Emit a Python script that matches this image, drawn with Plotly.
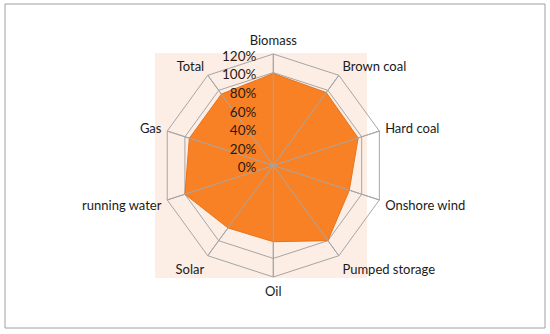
import plotly.graph_objects as go

categories = ["Biomass", "Brown coal", "Hard coal", "Onshore wind", "Pumped storage",
              "Oil", "Solar", "running water", "Gas", "Total"]
values = [99, 97, 96, 86, 100, 82, 83, 100, 95, 95]
tick_vals = [0, 20, 40, 60, 80, 100, 120]
tick_text = [f"{v}%" for v in tick_vals]

W, H = 550, 334
cx, cy, R = 273.3, 165.5, 111.5
dom_x = [(cx - R) / W, (cx + R) / W]
dom_y = [(H - cy - R) / H, (H - cy + R) / H]
lab_shift = 7 / W
dom_x_lab = [dom_x[0] - lab_shift, dom_x[1] - lab_shift]

theta = categories + [categories[0]]
r = values + [values[0]]

fig = go.Figure()
fig.add_trace(go.Scatterpolar(
    r=r, theta=theta, mode="lines", fill="toself",
    fillcolor="#F98125", line=dict(color="#E8731C", width=1),
    subplot="polar", hoverinfo="skip", showlegend=False))
fig.add_trace(go.Scatterpolar(
    r=[0], theta=[categories[0]], mode="markers",
    marker=dict(color="#9A9A9A", size=6),
    subplot="polar2", hoverinfo="skip", showlegend=False))
fig.add_trace(go.Scatterpolar(
    r=[0], theta=[categories[0]], mode="markers",
    marker=dict(size=1, opacity=0),
    subplot="polar3", hoverinfo="skip", showlegend=False))

font_family = "Lato, 'Open Sans', sans-serif"
common_ang = dict(direction="clockwise", rotation=90, type="category",
                  categoryarray=categories)

fig.update_layout(
    width=W, height=H,
    margin=dict(l=0, r=0, t=0, b=0),
    paper_bgcolor="white",
    font=dict(family=font_family, size=13, color="#1a1a1a"),
    polar=dict(
        domain=dict(x=dom_x, y=dom_y),
        gridshape="linear",
        bgcolor="rgba(0,0,0,0)",
        radialaxis=dict(range=[0, 120], tickvals=tick_vals, showticklabels=False,
                        showline=False, ticks="", gridcolor="#A6A6A6", gridwidth=1),
        angularaxis=dict(**common_ang, showticklabels=False, ticks="",
                         showline=True, linecolor="#A6A6A6", linewidth=1,
                         gridcolor="#A6A6A6", showgrid=True),
    ),
    polar2=dict(
        domain=dict(x=dom_x, y=dom_y),
        gridshape="linear",
        bgcolor="rgba(0,0,0,0)",
        radialaxis=dict(range=[0, 120], tickvals=tick_vals, showticklabels=False,
                        showgrid=False, showline=False, ticks=""),
        angularaxis=dict(**common_ang, showline=False, ticks="outside", ticklen=3,
                         tickcolor="rgba(0,0,0,0)",
                         gridcolor="#A6A6A6", showgrid=True,
                         tickfont=dict(size=13, color="#1a1a1a")),
    ),
    polar3=dict(
        domain=dict(x=dom_x_lab, y=dom_y),
        gridshape="linear",
        bgcolor="rgba(0,0,0,0)",
        radialaxis=dict(range=[0, 120], tickvals=tick_vals, ticktext=tick_text,
                        angle=90, side="counterclockwise", showgrid=False,
                        showline=False, ticks="",
                        tickfont=dict(size=13.5, color="#2a1a10")),
        angularaxis=dict(**common_ang, visible=False, showgrid=False,
                         showline=False, showticklabels=False, ticks=""),
    ),
    shapes=[
        dict(type="rect", xref="paper", yref="paper",
             x0=155 / W, x1=367 / W, y0=1 - 278 / H, y1=1 - 53 / H,
             fillcolor="#FCEDE5", line=dict(width=0), layer="below"),
        dict(type="rect", xref="paper", yref="paper",
             x0=5 / W, x1=545 / W, y0=1 - 328 / H, y1=1 - 4 / H,
             fillcolor="rgba(0,0,0,0)", line=dict(color="#A0A0A0", width=1),
             layer="below"),
    ],
)

fig.write_html("out.html", config={"displayModeBar": False},
               post_script="document.body.style.margin='0';document.body.style.overflow='hidden';")
